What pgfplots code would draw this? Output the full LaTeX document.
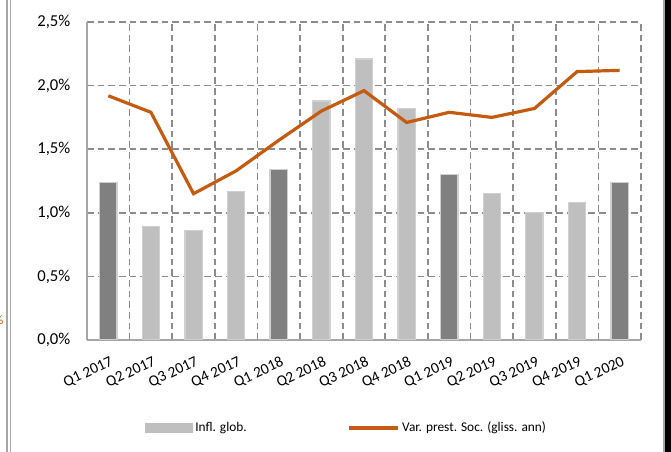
\documentclass[border=0pt]{standalone}
\usepackage{fontspec}
\setmainfont{Carlito}
\usepackage{pgfplots}
\pgfplotsset{compat=1.18}
\definecolor{darkbar}{HTML}{808080}
\definecolor{lightbar}{HTML}{BFBFBF}
\definecolor{barline}{HTML}{D0D0D0}
\definecolor{orangeline}{HTML}{C55A11}
\definecolor{gridgray}{HTML}{8C8C8C}
\definecolor{axisgray}{HTML}{A6A6A6}

\begin{document}
\begin{tikzpicture}
\useasboundingbox (0,0) rectangle (503.25pt,339pt);
% frame of the page the chart was cut from
\draw[axisgray, line width=0.9pt] (5.25pt,0) -- (5.25pt,339pt);
\draw[axisgray, line width=0.9pt] (7.6pt,0) -- (7.6pt,339pt);
\draw[axisgray, line width=0.9pt] (498pt,0) -- (498pt,339pt);
\fill[black] (498.9pt,0) rectangle (503.25pt,339pt);
\node[text=orangeline, font=\fontsize{10}{11}\selectfont, anchor=center, inner sep=0pt] at (-1pt,99pt) {\%};

\begin{axis}[
  at={(65.25pt,84pt)}, anchor=south west,
  scale only axis, width=415.5pt, height=238.5pt,
  xmin=-0.5, xmax=12.5, ymin=0, ymax=2.5,
  xtick={0,...,12},
  xticklabels={Q1 2017, Q2 2017, Q3 2017, Q4 2017, Q1 2018, Q2 2018, Q3 2018, Q4 2018, Q1 2019, Q2 2019, Q3 2019, Q4 2019, Q1 2020},
  minor xtick={0.5,1.5,2.5,3.5,4.5,5.5,6.5,7.5,8.5,9.5,10.5,11.5,12.5},
  ytick={0,0.5,1,1.5,2,2.5},
  ymajorgrids, xminorgrids,
  major grid style={gridgray, line width=1.3pt, dash pattern=on 5pt off 3pt},
  minor grid style={gridgray, line width=1.3pt, dash pattern=on 5pt off 3pt},
  axis x line*=bottom, axis y line*=left,
  axis line style={-, axisgray, line width=1.3pt},
  major tick length=0pt, minor tick length=0pt,
  yticklabel={\pgfmathprintnumber{\tick}\%},
  /pgf/number format/fixed, /pgf/number format/fixed zerofill,
  /pgf/number format/precision=1, /pgf/number format/use comma,
  /pgf/number format/assume math mode=true,
  yticklabel style={font=\fontsize{12.5}{14}\selectfont, xshift=-9pt},
  x tick label style={rotate=25, anchor=north east, font=\fontsize{11.5}{13}\selectfont, inner sep=1pt, xshift=-3pt, yshift=-10pt},
  legend columns=2,
  legend style={draw=none, fill=none, at={(0.1047,-0.2767)}, anchor=west, inner sep=0pt,
    font=\fontsize{10}{12}\selectfont,
    /tikz/every even column/.append style={column sep=73.5pt}},
]
\addplot[ybar, bar shift=0pt, bar width=13pt, fill=lightbar, draw=barline, line width=1pt,
  legend image code/.code={\fill[lightbar] (0pt,-2.9pt) rectangle (34.5pt,2.9pt);}]
  coordinates {(1,0.89) (2,0.86) (3,1.17) (5,1.88) (6,2.21) (7,1.82) (9,1.15) (10,1.00) (11,1.08)};
\addlegendentry{Infl. glob.}
\addplot[ybar, bar shift=0pt, bar width=13pt, fill=darkbar, draw=barline, line width=1pt, forget plot]
  coordinates {(0,1.24) (4,1.34) (8,1.30) (12,1.24)};
\addplot[orangeline, line width=2.4pt, mark=none,
  legend image code/.code={\draw[orangeline, line width=2.6pt] (0pt,0pt) -- (36.5pt,0pt);}]
  coordinates {(0,1.92) (1,1.79) (2,1.15) (3,1.33) (4,1.57) (5,1.80) (6,1.96) (7,1.71) (8,1.79) (9,1.75) (10,1.82) (11,2.11) (12,2.12)};
\addlegendentry{Var. prest. Soc. (gliss. ann)}
\end{axis}
\end{tikzpicture}
\end{document}
